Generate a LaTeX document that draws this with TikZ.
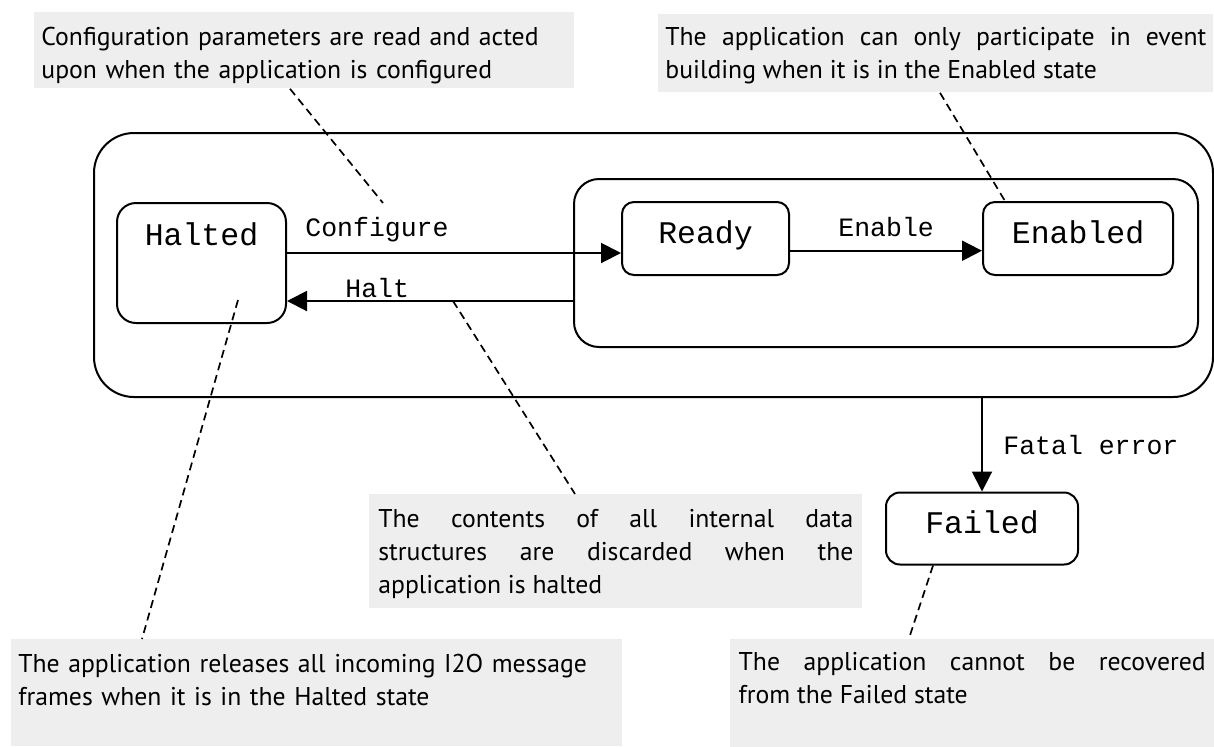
\documentclass[tikz,border=0pt]{standalone}
\usepackage{fontspec}
\setmainfont{PT Sans}
\setmonofont{Liberation Mono}
\usetikzlibrary{arrows.meta}
\definecolor{notegray}{HTML}{EEEEEE}
\tikzset{>={Triangle[length=10pt,width=10pt]},
  statebox/.style={draw, line width=1pt, rounded corners=6pt, minimum height=36.5pt, font=\fontsize{15.75}{18}\selectfont\ttfamily, text height=8.5pt, text depth=3.5pt},
  cluster/.style={draw, line width=1pt, inner sep=0pt},
  lbl/.style={inner sep=0pt, anchor=base west, font=\fontsize{13.25}{15}\selectfont\ttfamily},
  note/.style={fill=notegray, anchor=north west, inner ysep=0pt, font=\fontsize{12.85}{16.5}\selectfont},
  link/.style={dash pattern=on 4pt off 2.5pt, line width=0.85pt},
  trans/.style={->, line width=1pt}}

\begin{document}
\begin{tikzpicture}[x=0.5pt, y=-0.5pt]
  \useasboundingbox (0,0) rectangle (1214,746);
  % containers
  \node[cluster, rounded corners=20pt, minimum width=559.5pt, minimum height=132pt] (outer) at (653.5,265) {};
  \node[cluster, rounded corners=12.5pt, minimum width=312pt, minimum height=84pt] (active) at (886,263) {};
  % states
  \node[statebox, rounded corners=9.5pt, minimum width=84.5pt, minimum height=60pt, text depth=26.5pt] (halted) at (201.5,263) {Halted};
  \node[statebox, minimum width=83.5pt] (ready) at (705.5,238.5) {Ready};
  \node[statebox, minimum width=95pt] (enabled) at (1078,238.5) {Enabled};
  \node[statebox, rounded corners=7pt, minimum width=96pt, minimum height=36pt] (failed) at (982,528.5) {Failed};
  % transitions
  \draw[trans] (halted.east |- 0,253) -- (ready.west |- 0,253);
  \draw[trans] (active.west |- 0,301) -- (halted.east |- 0,301);
  \draw[trans] (ready.east |- 0,250.7) -- (enabled.west |- 0,250.7);
  \draw[trans] (failed.north |- outer.south) -- (failed.north);
  \node[lbl] (cfglbl) at (305,236) {Configure};
  \node[lbl] (haltlbl) at (345,297) {Halt};
  \node[lbl] (enlbl) at (838,236.7) {Enable};
  \node[lbl] (fatallbl) at (1003,454) {Fatal error};
  % notes
  \node[note, align=left, inner xsep=3.5pt, text width=263pt, text height=16.5pt, text depth=21.5pt] (cfgnote) at (34,12)
    {Configuration parameters are read and acted\\upon when the application is configured};
  \node[note, align=justify, inner xsep=3.5pt, text width=270.5pt, text height=15.5pt, text depth=23.5pt] (enote) at (658,14)
    {\rightskip=7pt The application can only participate in event\linebreak building when it is in the Enabled state};
  \node[note, align=justify, inner xsep=4.5pt, text width=237.5pt, text height=16.35pt, text depth=40.65pt] (cnote) at (369,494)
    {\rightskip=5.5pt The contents of all internal data\linebreak structures are discarded when the\linebreak application is halted};
  \node[note, align=left, inner xsep=3.5pt, text width=298.5pt, text height=16.5pt, text depth=37pt] (hnote) at (11,639)
    {The application releases all incoming I2O message\\frames when it is in the Halted state};
  \node[note, align=justify, inner xsep=4.5pt, text width=233.5pt, text height=16pt, text depth=38pt] (fnote) at (729.3,638.3)
    {\rightskip=1.5pt The application cannot be recovered\linebreak from the Failed state};
  % note links
  \coordinate (cfgtip) at (383,203);
  \coordinate (hltip) at (238,300);
  \coordinate (halttip) at (453,301);
  \draw[link] (cfgnote.south -| 290,0) -- (cfgtip);
  \draw[link] (enote.south -| 940,0) -- (enabled.north -| 1005,0);
  \draw[link] (hltip) -- (hnote.north -| 142,0);
  \draw[link] (halttip) -- (cnote.north -| 575,0);
  \draw[link] (failed.south -| 933,0) -- (fnote.north -| 909,0);
\end{tikzpicture}
\end{document}
